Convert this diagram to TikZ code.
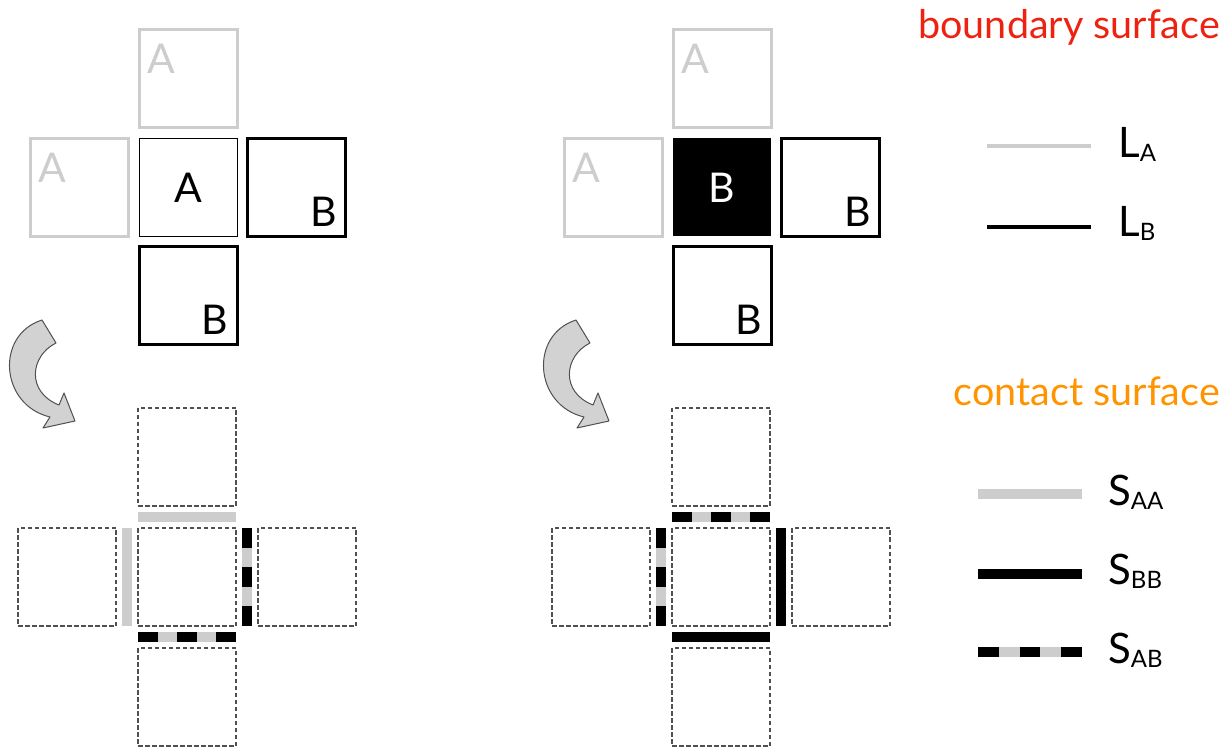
\documentclass[tikz,border=0pt]{standalone}
\usepackage{fontspec}
\setmainfont{Lato}
\usetikzlibrary{calc,positioning}
\definecolor{lgray}{RGB}{205,205,205}
\definecolor{dgray}{RGB}{80,80,80}
\definecolor{agray}{RGB}{210,210,210}
\definecolor{bred}{RGB}{238,34,17}
\definecolor{corange}{RGB}{255,148,0}
\newcommand{\lsub}[1]{\raisebox{-4pt}{\fontsize{24}{24}\selectfont #1}}

\begin{document}
\begin{tikzpicture}[x=1pt,y=1pt,node distance=10.5pt,every node/.style={inner sep=0pt},
    cell/.style={rectangle,minimum size=98pt,outer sep=0pt},
    acell/.style={cell,draw=lgray,line width=3pt},
    bcell/.style={cell,draw=black,line width=3pt},
    dcell/.style={cell,draw=dgray,line width=1.7pt,dash pattern=on 4.5pt off 2.5pt},
    big/.style={font=\fontsize{41}{41}\selectfont},
    leg/.style={font=\fontsize{42}{42}\selectfont,anchor=base west},
    saa/.style={draw=lgray,line width=10pt},
    sbb/.style={draw=black,line width=10pt},
    sab/.style={draw=lgray,line width=10pt,postaction={draw=black,line width=10pt,dash pattern=on #1 off #1}},
    sab/.default=19.6pt]
    \useasboundingbox (0,0) rectangle (1227,748);

    % boundary surface, centre cell A
    \node[cell,draw=black,line width=0.8pt,big] (cA) at (188,560.5) {A};
    \node[acell,above=of cA] (tA) {};
    \node[acell,left=of cA] (lA) {};
    \node[bcell,right=of cA] (rA) {};
    \node[bcell,below=of cA] (bA) {};
    \node[big,text=lgray] (tAl) at ([shift={(22,-29)}]tA.north west) {A};
    \node[big,text=lgray] (lAl) at ([shift={(22,-29)}]lA.north west) {A};
    \node[big] (rAl) at ([shift={(-22,25)}]rA.south east) {B};
    \node[big] (bAl) at ([shift={(-22,25)}]bA.south east) {B};

    % boundary surface, centre cell B
    \node[cell,fill=black,text=white,big] (cB) at (722,560.5) {B};
    \node[acell,above=of cB] (tB) {};
    \node[acell,left=of cB] (lB) {};
    \node[bcell,right=of cB] (rB) {};
    \node[bcell,below=of cB] (bB) {};
    \node[big,text=lgray] (tBl) at ([shift={(22,-29)}]tB.north west) {A};
    \node[big,text=lgray] (lBl) at ([shift={(22,-29)}]lB.north west) {A};
    \node[big] (rBl) at ([shift={(-22,25)}]rB.south east) {B};
    \node[big] (bBl) at ([shift={(-22,25)}]bB.south east) {B};

    % turn arrows
    \foreach \dx in {0,534}
      \draw[fill=agray,draw=dgray,line width=1pt,line join=round,shift={(\dx,0)}]
        (42,428) -- (56,405) .. controls (30,392) and (26,356) .. (59,343) -- (64,355)
        -- (75,327) -- (43,320) -- (50,331) .. controls (0,343) and (-5,413) .. (42,428) -- cycle;

    % contact surface, cell A
    \node[dcell] (dA) at (187,171) {};
    \node[dcell,above=22pt of dA] (dAt) {};
    \node[dcell,left=22pt of dA] (dAl) {};
    \node[dcell,right=22pt of dA] (dAr) {};
    \node[dcell,below=22pt of dA] (dAb) {};
    \draw[saa] ($(dA.north west)!.5!(dAt.south west)$) -- ($(dA.north east)!.5!(dAt.south east)$);
    \draw[saa] ($(dA.north west)!.5!(dAl.north east)$) -- ($(dA.south west)!.5!(dAl.south east)$);
    \draw[sab] ($(dA.north east)!.5!(dAr.north west)$) -- ($(dA.south east)!.5!(dAr.south west)$);
    \draw[sab] ($(dA.south west)!.5!(dAb.north west)$) -- ($(dA.south east)!.5!(dAb.north east)$);

    % contact surface, cell B
    \node[dcell] (dB) at (721,171) {};
    \node[dcell,above=22pt of dB] (dBt) {};
    \node[dcell,left=22pt of dB] (dBl) {};
    \node[dcell,right=22pt of dB] (dBr) {};
    \node[dcell,below=22pt of dB] (dBb) {};
    \draw[sab] ($(dB.north west)!.5!(dBt.south west)$) -- ($(dB.north east)!.5!(dBt.south east)$);
    \draw[sab] ($(dB.north west)!.5!(dBl.north east)$) -- ($(dB.south west)!.5!(dBl.south east)$);
    \draw[sbb] ($(dB.north east)!.5!(dBr.north west)$) -- ($(dB.south east)!.5!(dBr.south west)$);
    \draw[sbb] ($(dB.south west)!.5!(dBb.north west)$) -- ($(dB.south east)!.5!(dBb.north east)$);

    % legend
    \node[font=\fontsize{39.5}{39.5}\selectfont,text=bred,anchor=base east] (bsurf) at (1220,709) {boundary surface};
    \coordinate (kLA) at (987,602);
    \coordinate (kLB) at (987,521);
    \draw[lgray,line width=4pt] (kLA) -- ++(104,0);
    \draw[black,line width=4pt] (kLB) -- ++(104,0);
    \node[leg] (tLA) at (1118,590) {L\lsub{A}};
    \node[leg] (tLB) at (1118,511) {L\lsub{B}};

    \node[font=\fontsize{39.5}{39.5}\selectfont,text=corange,anchor=base east] (csurf) at (1220,342) {contact surface};
    \coordinate (kSAA) at (978,254);
    \coordinate (kSBB) at (978,174.5);
    \coordinate (kSAB) at (978,96.5);
    \draw[saa] (kSAA) -- ++(104,0);
    \draw[sbb] (kSBB) -- ++(104,0);
    \draw[sab=20.8pt] (kSAB) -- ++(104,0);
    \node[leg] (tSAA) at (1108,243) {S\lsub{AA}};
    \node[leg] (tSBB) at (1108,164) {S\lsub{BB}};
    \node[leg] (tSAB) at (1108,85) {S\lsub{AB}};
  \end{tikzpicture}
\end{document}
